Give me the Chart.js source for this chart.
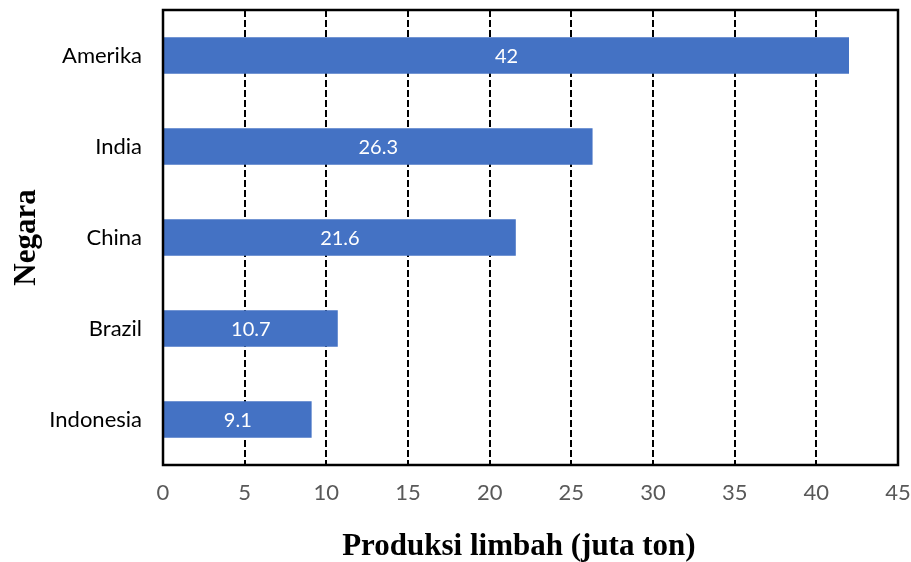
<!DOCTYPE html>
<html>
<head>
    <title>Produksi limbah</title>
    <script src="https://cdn.jsdelivr.net/npm/chart.js"></script>
    <style>
        html, body {
            margin: 0;
            padding: 0;
            background: #fff;
        }
        #wrap {
            width: 911px;
            height: 562px;
        }
    </style>
</head>
<body>
    <div id="wrap"><canvas id="wasteChart" width="911" height="562"></canvas></div>

    <script>
        const countries = ["Amerika", "India", "China", "Brazil", "Indonesia"];
        const wasteValues = [42, 26.3, 21.6, 10.7, 9.1];
        const xTicks = [0, 5, 10, 15, 20, 25, 30, 35, 40, 45];

        const tickFont = { family: "Lato, 'Open Sans', sans-serif", size: 22 };
        const titleFont = { family: "'Liberation Serif', 'Times New Roman', serif", size: 31, weight: "bold", lineHeight: 1 };

        // white value text in the middle of each bar
        const barLabels = {
            id: "barLabels",
            afterDatasetsDraw(chart) {
                const ctx = chart.ctx;
                const meta = chart.getDatasetMeta(0);
                ctx.save();
                ctx.fillStyle = "#ffffff";
                ctx.font = "20px Lato, 'Open Sans', sans-serif";
                ctx.textAlign = "center";
                ctx.textBaseline = "middle";
                meta.data.forEach((bar, i) => {
                    const mid = (bar.base + bar.x) / 2;
                    ctx.fillText(String(wasteValues[i]), mid, bar.y + 1);
                });
                ctx.restore();
            }
        };

        // solid black frame around the plot
        const frame = {
            id: "frame",
            afterDraw(chart) {
                const a = chart.chartArea;
                const ctx = chart.ctx;
                ctx.save();
                ctx.strokeStyle = "#000";
                ctx.lineWidth = 2.5;
                ctx.strokeRect(a.left, a.top, a.right - a.left, a.bottom - a.top);
                ctx.restore();
            }
        };

        new Chart(document.getElementById("wasteChart"), {
            type: "bar",
            data: {
                labels: countries,
                datasets: [{
                    data: wasteValues,
                    backgroundColor: "#4472C4",
                    borderWidth: 0,
                    categoryPercentage: 0.8,
                    barPercentage: 0.5
                }]
            },
            options: {
                indexAxis: "y",
                responsive: false,
                animation: false,
                layout: { padding: { top: 10, right: 13, bottom: 0, left: 0 } },
                plugins: {
                    legend: { display: false },
                    tooltip: { enabled: false }
                },
                scales: {
                    x: {
                        min: 0,
                        max: 45,
                        afterBuildTicks(axis) {
                            axis.ticks = xTicks.map(v => ({ value: v }));
                        },
                        afterFit(axis) {
                            axis.height = 97;
                            axis.paddingLeft = 0;
                            axis.paddingRight = 0;
                        },
                        grid: {
                            color: "#000",
                            lineWidth: 2,
                            drawTicks: false
                        },
                        border: { display: false, dash: [7, 3] },
                        ticks: {
                            color: "#595959",
                            font: tickFont,
                            padding: 15
                        },
                        title: {
                            display: true,
                            // trailing spaces nudge the centred title a bit to the left
                            text: "Produksi limbah (juta ton)   ",
                            color: "#000",
                            font: titleFont,
                            padding: { top: 0, bottom: 0 }
                        }
                    },
                    y: {
                        afterFit(axis) {
                            axis.width = 163;
                            axis.paddingTop = 0;
                            axis.paddingBottom = 0;
                        },
                        grid: { display: false, drawTicks: false },
                        border: { display: false },
                        ticks: {
                            color: "#000",
                            font: tickFont,
                            padding: 21
                        },
                        title: {
                            display: true,
                            text: "Negara",
                            color: "#000",
                            font: titleFont,
                            padding: { top: 11, bottom: 0 }
                        }
                    }
                }
            },
            plugins: [barLabels, frame]
        });
    </script>
</body>
</html>
